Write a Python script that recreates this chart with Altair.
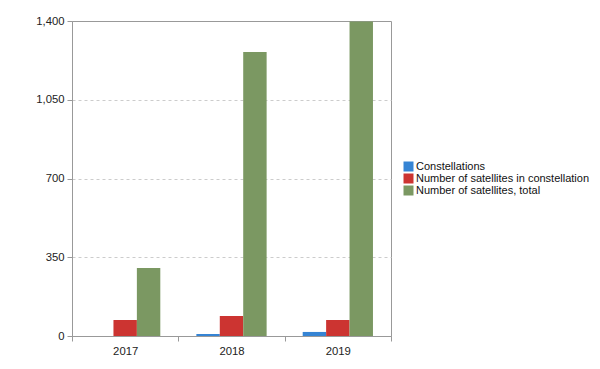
import altair as alt
import pandas as pd

years = ["2017", "2018", "2019"]
series = ["Constellations", "Number of satellites in constellation", "Number of satellites, total"]
constellations = [0, 9, 18]
in_constellation = [71, 89, 71]
total = [302, 1262, 1398]
colors = ["#3584d4", "#cc3431", "#7b9862"]

rows = []
for i, y in enumerate(years):
    for s, vals in zip(series, [constellations, in_constellation, total]):
        rows.append({"year": y, "series": s, "value": vals[i]})
df = pd.DataFrame(rows)

font = "Liberation Sans"

chart = alt.Chart(df).mark_bar().encode(
    x=alt.X("year:N", title=None,
            scale=alt.Scale(paddingInner=0, paddingOuter=0),
            axis=alt.Axis(labelAngle=0, tickBand="extent", domainColor="#999999",
                          tickColor="#999999", tickSize=5, labelFont=font, labelFontSize=11.3,
                          labelColor="#222222", labelPadding=4)),
    xOffset=alt.XOffset("series:N", sort=series,
                        scale=alt.Scale(paddingInner=0, paddingOuter=0.77)),
    y=alt.Y("value:Q", title=None,
            scale=alt.Scale(domain=[0, 1400], nice=False),
            axis=alt.Axis(values=[0, 350, 700, 1050, 1400], format=",d",
                          domainColor="#999999", tickColor="#999999", tickSize=5,
                          gridColor="#cccccc", gridDash=[3, 3],
                          gridOpacity=alt.condition("datum.value >= 1400 || datum.value <= 0",
                                                    alt.value(0), alt.value(1)),
                          labelFont=font,
                          labelFontSize=11.3, labelColor="#222222", labelPadding=3)),
    color=alt.Color("series:N", sort=series, title=None,
                    scale=alt.Scale(domain=series, range=colors),
                    legend=alt.Legend(orient="none", legendX=331, legendY=140,
                                      symbolType="square", symbolSize=100,
                                      symbolStrokeWidth=0, labelFont=font,
                                      labelFontSize=11, labelColor="#111111",
                                      labelLimit=400,
                                      rowPadding=0, symbolOffset=0, labelOffset=2)),
).properties(
    width=319, height=315,
    autosize=alt.AutoSizeParams(type="none"),
    padding={"left": 64, "top": 13, "right": 201, "bottom": 24},
).configure_view(stroke="#999999", strokeWidth=1)

chart.save("out.html", embed_options={"renderer": "svg", "actions": False})
